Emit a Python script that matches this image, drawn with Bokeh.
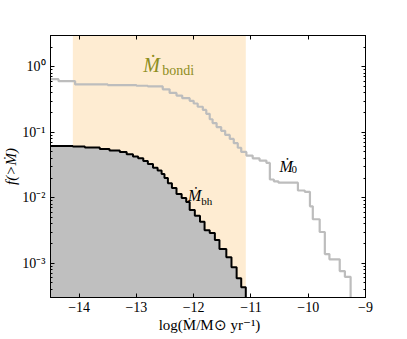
from bokeh.plotting import figure
from bokeh.models import (BoxAnnotation, LinearAxis, LogAxis, FixedTicker,
                          CustomJSTickFormatter, Range1d)
from bokeh.core.properties import value
from bokeh.embed import file_html
from bokeh.resources import INLINE

# ---------------- data ----------------
# cumulative distribution of Mdot_0 (grey step line)
x_m0 = [-14.50, -14.36, -14.07, -13.50, -13.00, -12.80, -12.54, -12.42, -12.30,
        -12.20, -12.07, -12.00, -11.93, -11.84, -11.78, -11.72, -11.67, -11.60,
        -11.52, -11.45, -11.37, -11.30, -11.23, -11.17, -11.08, -10.97, -10.85,
        -10.73, -10.67, -10.60, -10.52, -10.18, -10.06, -9.97, -9.92, -9.80,
        -9.71, -9.63, -9.45, -9.36, -9.26]
f_m0 = [0.646, 0.603, 0.537, 0.525, 0.513, 0.500, 0.452, 0.398, 0.363,
        0.331, 0.302, 0.275, 0.245, 0.219, 0.191, 0.158, 0.138, 0.120,
        0.105, 0.091, 0.079, 0.068, 0.058, 0.050, 0.044, 0.040, 0.037,
        0.034, 0.019, 0.0178, 0.0170, 0.0129, 0.0123, 0.0074, 0.0047, 0.0030,
        0.00138, 0.00115, 0.00076, 0.00062, 1e-5]

# cumulative distribution of Mdot_bh (black step line, grey fill)
x_bh = [-14.50, -14.11, -13.90, -13.64, -13.47, -13.29, -13.17, -13.06, -12.97,
        -12.88, -12.80, -12.71, -12.63, -12.56, -12.51, -12.45, -12.38, -12.30,
        -12.21, -12.13, -12.07, -11.98, -11.89, -11.81, -11.72, -11.63, -11.55,
        -11.43, -11.34, -11.25, -11.17, -11.09]
f_bh = [0.0615, 0.0605, 0.0583, 0.0555, 0.0526, 0.0499, 0.0460, 0.0426, 0.0400,
        0.0363, 0.0327, 0.0287, 0.0260, 0.0230, 0.0200, 0.0167, 0.0141, 0.0114,
        0.0099, 0.0086, 0.0065, 0.0053, 0.0043, 0.0032, 0.0029, 0.00226, 0.00165,
        0.00124, 0.00087, 0.00059, 0.00043, 1e-5]

# range of Mdot_bondi (shaded band)
bondi_range = [-14.11, -11.09]

x_ticks = [-14, -13, -12, -11, -10, -9]
x_tick_labels = ["\u221214", "\u221213", "\u221212", "\u221211", "\u221210", "\u22129"]
y_ticks = [1e-3, 1e-2, 1e-1, 1.0]
y_tick_labels = ["10\u207b\u00b3", "10\u207b\u00b2", "10\u207b\u00b9", "10\u2070"]

annot_main = ["\u1e40", "\u1e40", "\u1e40"]
annot_sub = ["bondi", "bh", "0"]
annot_main_x = [-12.88, -12.10, -10.50]
annot_main_y = [1.06, 0.0109, 0.0305]
annot_sub_x = [-12.55, -11.87, -10.29]
annot_sub_y = [0.885, 0.0090, 0.0272]
annot_color = ["#8e8e1e", "black", "black"]

FONT = "Liberation Serif"

# ---------------- figure ----------------
p = figure(x_range=Range1d(-14.5, -9.0), y_range=Range1d(3e-4, 3.0),
           y_axis_type="log", frame_width=315, frame_height=262,
           min_border_left=45, min_border_top=35, min_border_right=30,
           min_border_bottom=30, output_backend="svg", toolbar_location=None,
           background_fill_color="white", border_fill_color="white")
p.xgrid.visible = False
p.ygrid.visible = False
p.outline_line_color = "black"
p.outline_line_width = 1

band = BoxAnnotation(left=bondi_range[0], right=bondi_range[1],
                     fill_color="#FEECD2", fill_alpha=1.0, line_color=None,
                     level="underlay")
p.add_layout(band)

p.varea_step(x=x_bh, y1=[1e-6] * len(x_bh), y2=f_bh, step_mode="after",
             fill_color="#BFBFBF", fill_alpha=1.0)
p.step(x=x_bh, y=f_bh, mode="after", line_color="black", line_width=2)
p.step(x=x_m0, y=f_m0, mode="after", line_color="#BDBDBD", line_width=2.2)

# annotations
p.text(x=annot_main_x[:1], y=annot_main_y[:1], text=annot_main[:1],
       text_font=value(FONT), text_font_style="italic", text_font_size="20px",
       text_color=annot_color[0], text_baseline="alphabetic", text_align="left")
p.text(x=annot_sub_x[:1], y=annot_sub_y[:1], text=annot_sub[:1],
       text_font=value(FONT), text_font_size="14px",
       text_color=annot_color[0], text_baseline="alphabetic", text_align="left")
p.text(x=annot_main_x[1:], y=annot_main_y[1:], text=annot_main[1:],
       text_font=value(FONT), text_font_style="italic", text_font_size="16px",
       text_color=annot_color[1:], text_baseline="alphabetic", text_align="left")
p.text(x=annot_sub_x[1:], y=annot_sub_y[1:], text=annot_sub[1:],
       text_font=value(FONT), text_font_size="11px",
       text_color=annot_color[1:], text_baseline="alphabetic", text_align="left")

# ---------------- axes ----------------
y_minor = [k * 10.0 ** n for n in range(-4, 1) for k in range(2, 10)
           if 3e-4 <= k * 10.0 ** n <= 3.0]
xticker = FixedTicker(ticks=x_ticks, minor_ticks=[])
yticker = FixedTicker(ticks=y_ticks, minor_ticks=y_minor)

xfmt = CustomJSTickFormatter(args=dict(tv=x_ticks, tl=x_tick_labels), code="""
let best = 0, d = 1e9;
for (let i = 0; i < tv.length; i++) {
  const dd = Math.abs(tick - tv[i]);
  if (dd < d) { d = dd; best = i; }
}
return tl[best];
""")
yfmt = CustomJSTickFormatter(args=dict(tv=y_ticks, tl=y_tick_labels), code="""
let best = 0, d = 1e9;
for (let i = 0; i < tv.length; i++) {
  const dd = Math.abs(Math.log10(tick) - Math.log10(tv[i]));
  if (dd < d) { d = dd; best = i; }
}
return tl[best];
""")
blank = CustomJSTickFormatter(code="return '';")


def style(ax):
    ax.axis_line_color = "black"
    ax.major_tick_line_color = "black"
    ax.minor_tick_line_color = "black"
    ax.major_tick_in = 4
    ax.major_tick_out = 0
    ax.minor_tick_in = 2
    ax.minor_tick_out = 0
    ax.major_label_text_font = FONT
    ax.major_label_text_font_size = "14px"
    ax.major_label_text_color = "black"
    ax.axis_label_text_font = FONT
    ax.axis_label_text_font_size = "15px"
    ax.axis_label_text_font_style = "normal"
    ax.axis_label_text_color = "black"


xa = p.xaxis[0]
xa.ticker = xticker
xa.formatter = xfmt
style(xa)
xa.major_label_standoff = 4
xa.axis_label = "log(\u1e40/M\u2299 yr\u207b\u00b9)"
xa.axis_label_standoff = 2

ya = p.yaxis[0]
ya.ticker = yticker
ya.formatter = yfmt
style(ya)
ya.major_label_text_font_size = "14px"
ya.major_label_standoff = 5
ya.axis_label = "f(>\u1e40)"
ya.axis_label_text_font_style = "italic"
ya.axis_label_standoff = 0

top = LinearAxis(ticker=FixedTicker(ticks=x_ticks, minor_ticks=[]),
                 formatter=blank)
style(top)
top.major_label_standoff = 0
p.add_layout(top, "above")

right = LogAxis(ticker=FixedTicker(ticks=y_ticks, minor_ticks=y_minor),
                formatter=blank)
style(right)
right.major_label_standoff = 0
p.add_layout(right, "right")

open("out.html", "w").write(file_html(p, INLINE))
